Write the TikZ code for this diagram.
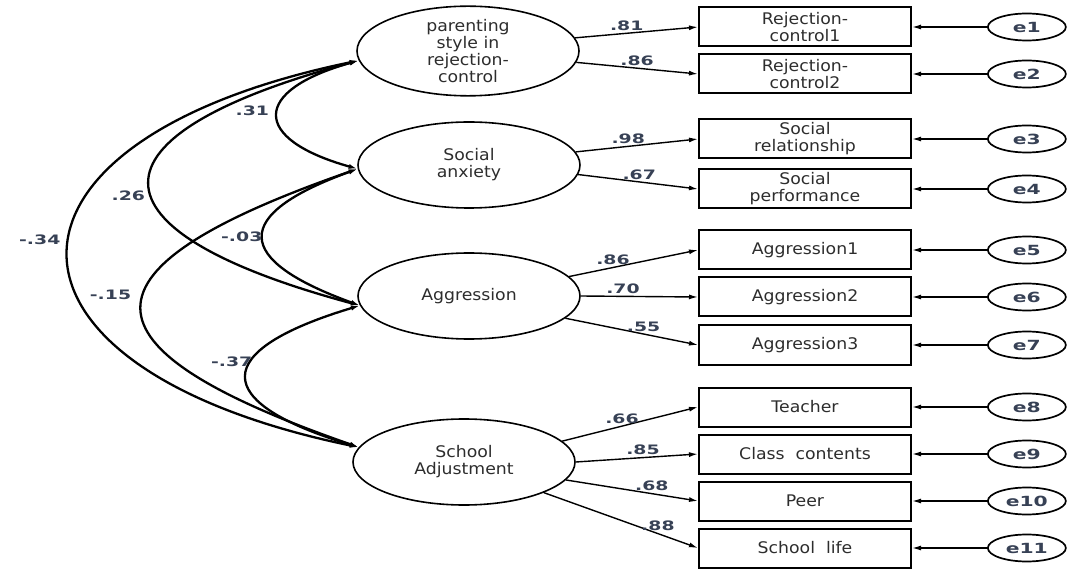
\documentclass[tikz,border=0pt]{standalone}
\usepackage{fontspec}
\setmainfont[FakeStretch=1.08]{DejaVu Sans}
\newfontfamily\coeffont[FakeStretch=1.45]{DejaVu Sans}
\usetikzlibrary{shapes.geometric,positioning,arrows.meta}
\definecolor{txtgray}{RGB}{45,45,45}
\definecolor{coefgray}{RGB}{55,65,85}
\tikzset{every node/.style={align=center}, >={Latex[length=9pt,width=5pt]},
  latent/.style={draw, ellipse, line width=1.6pt, minimum width=222pt, minimum height=86pt, inner sep=0pt,
    font=\fontsize{16}{17}\selectfont, text=txtgray},
  indicator/.style={draw, line width=2pt, minimum width=212pt, minimum height=39pt, inner sep=0pt,
    font=\fontsize{16}{17}\selectfont, text=txtgray},
  errvar/.style={draw, ellipse, line width=1.7pt, minimum width=78pt, minimum height=27pt, inner sep=0pt,
    font=\coeffont\bfseries\fontsize{14}{14}\selectfont, text=coefgray},
  coef/.style={font=\coeffont\bfseries\fontsize{13}{13}\selectfont, text=coefgray, inner sep=2pt},
  cov/.style={<->, line width=2.3pt},
  load/.style={->, line width=1.4pt}}

\begin{document}
\begin{tikzpicture}[x=1pt,y=-1pt]
    \useasboundingbox (0,0) rectangle (1071,569);
    % latent variables
    \node[latent] (par) at (468,51) {parenting\\style in\\rejection-\\control};
    \node[latent] (soc) at (469,165) {Social\\anxiety};
    \node[latent] (agg) at (469,296) {Aggression};
    \node[latent] (sch) at (464,462) {School\\Adjustment};
    % observed variables
    \node[indicator] (rc1) at (805,27) {Rejection-\\control1};
    \node[indicator] (rc2) at (805,74) {Rejection-\\control2};
    \node[indicator] (srel) at (805,139) {Social\\relationship};
    \node[indicator] (sperf) at (805,189) {Social\\performance};
    \node[indicator] (ag1) at (805,250) {Aggression1};
    \node[indicator] (ag2) at (805,297) {Aggression2};
    \node[indicator] (ag3) at (805,345) {Aggression3};
    \node[indicator] (tch) at (805,407) {Teacher};
    \node[indicator] (cls) at (805,454) {Class\ \ contents};
    \node[indicator] (peer) at (805,501) {Peer};
    \node[indicator] (life) at (805,548) {School\ \ life};
    % error terms
    \foreach \obs/\err in {rc1/e1, rc2/e2, srel/e3, sperf/e4, ag1/e5, ag2/e6, ag3/e7, tch/e8, cls/e9, peer/e10, life/e11} {
        \node[errvar, right=75pt of \obs] (\err) {\err};
        \draw[load] (\err) -- (\obs);
    }
    % loadings
    \draw[load] (par.7) -- node[coef, pos=.42, above] {.81} (rc1.west);
    \draw[load] (par.354) -- node[coef, pos=.5, above] {.86} (rc2.west);
    \draw[load] (soc.7) -- node[coef, pos=.43, above] {.98} (srel.west);
    \draw[load] (soc.355) -- node[coef, pos=.51, above] {.67} (sperf.west);
    \draw[load] (agg.11) -- node[coef, pos=.34, above] {.86} (ag1.west);
    \draw[load] (agg.0) -- node[coef, pos=.36, above] {.70} (ag2.west);
    \draw[load] (agg.347) -- node[coef, pos=.59, above] {.55} (ag3.west);
    \draw[load] (sch.12) -- node[coef, pos=.44, above] {.66} (tch.west);
    \draw[load] (sch.0) -- node[coef, pos=.55, above] {.85} (cls.west);
    \draw[load] (sch.350) -- node[coef, pos=.65, above] {.68} (peer.west);
    \draw[load] (sch.339) -- node[coef, pos=.74, above] {.88} (life.west);
    % covariances
    \draw[cov] (par.185) .. controls +(-107,30) and +(-107,-30) .. node[coef, pos=.47, left, xshift=-6pt] {.31} (soc.182);
    \draw[cov] (par.185) .. controls +(-279,75) and +(-279,-75) .. node[coef, pos=.55, left, xshift=-4pt] {.26} (agg.185);
    \draw[cov] (par.185) .. controls +(-387,80) and +(-387,-80) .. node[coef, pos=.47, left, xshift=-6pt] {-.34} (sch.172);
    \draw[cov] (soc.182) .. controls +(-127,46) and +(-127,-46) .. node[coef, pos=.5, left, xshift=2pt] {-.03} (agg.185);
    \draw[cov] (soc.182) .. controls +(-288,100) and +(-288,-100) .. node[coef, pos=.45, left, xshift=-10pt] {-.15} (sch.172);
    \draw[cov] (agg.185) .. controls +(-150,45) and +(-150,-45) .. node[coef, pos=.4, left, xshift=4pt] {-.37} (sch.172);
\end{tikzpicture}
\end{document}
